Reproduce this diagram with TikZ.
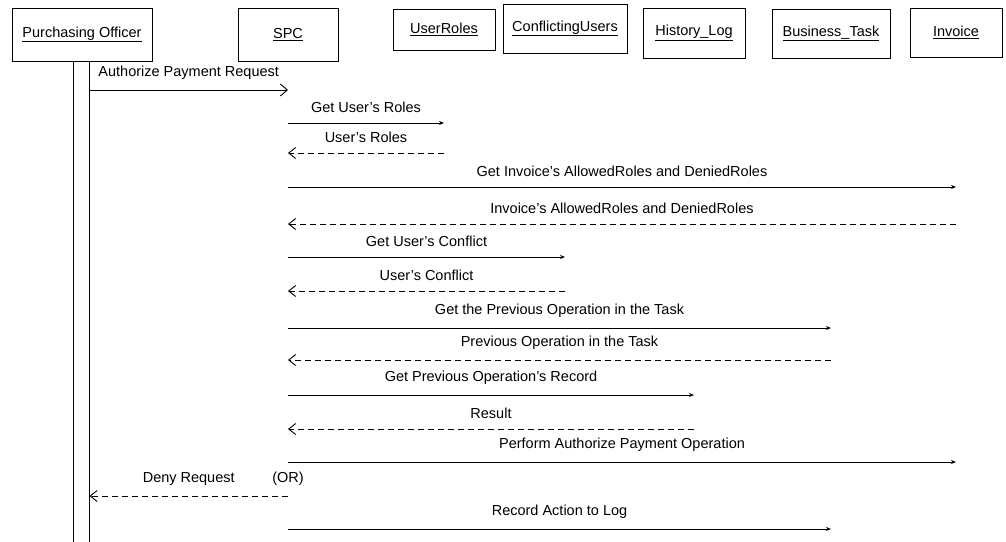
\documentclass[tikz,border=0pt]{standalone}
\usepackage{fontspec}
\setmainfont{Liberation Sans}
\usetikzlibrary{arrows.meta,calc}
\begin{document}
\begin{tikzpicture}[x=1pt,y=-1pt,
  every node/.style={font=\fontsize{14.5}{17}\selectfont},
  obj/.style={draw, line width=0.9pt, inner sep=0pt},
  call/.style={line width=0.9pt, -{Stealth[length=5pt,width=4pt]}},
  req/.style={line width=0.9pt, -{Straight Barb[length=7pt,width=12pt]}},
  reply/.style={line width=0.9pt, dash pattern=on 6pt off 4pt,
                -{Straight Barb[length=7pt,width=11pt]}},
  msg/.style={above=8pt, inner sep=2pt}]
\useasboundingbox (0,0) rectangle (1006,541);
\clip (0,0) rectangle (1006,541);

% object boxes
\node[obj, minimum width=140pt, minimum height=53pt] (po)   at (82,34.5)  {\underline{Purchasing Officer}};
\node[obj, minimum width=100pt, minimum height=53pt] (spc)  at (288,34.5) {\underline{SPC}};
\node[obj, minimum width=102pt, minimum height=41pt] (roles) at (444,29.5) {\underline{UserRoles}};
\node[obj, minimum width=124pt, minimum height=49pt] (conf) at (565,28.5) {\underline{ConflictingUsers}};
\node[obj, minimum width=102pt, minimum height=50pt] (hist) at (694,33)   {\underline{History\_Log}};
\node[obj, minimum width=118pt, minimum height=49pt] (task) at (831,33.5) {\underline{Business\_Task}};
\node[obj, minimum width=92pt,  minimum height=49pt] (inv)  at (956,32.5) {\underline{Invoice}};

% activation bar of the purchasing officer
\node[obj, minimum width=16pt, minimum height=520pt, anchor=north] (pobar) at (81,61) {};

% message levels
\coordinate (m1)  at (0,90);
\coordinate (m2)  at (0,123);
\coordinate (m3)  at (0,153);
\coordinate (m4)  at (0,187);
\coordinate (m5)  at (0,224);
\coordinate (m6)  at (0,257);
\coordinate (m7)  at (0,291);
\coordinate (m8)  at (0,328);
\coordinate (m9)  at (0,360);
\coordinate (m10) at (0,395);
\coordinate (m11) at (0,429);
\coordinate (m12) at (0,462);
\coordinate (m13) at (0,496);
\coordinate (m14) at (0,529);

% messages
\draw[req]   (pobar.east |- m1) -- node[msg]{Authorize Payment Request} (spc |- m1);
\draw[call]  (spc |- m2)  -- node[msg]{Get User's Roles} (roles |- m2);
\draw[reply] (roles |- m3) -- node[msg]{User's Roles} (spc |- m3);
\draw[call]  (spc |- m4)  -- node[msg]{Get Invoice's AllowedRoles and DeniedRoles} (inv |- m4);
\draw[reply] (inv |- m5)  -- node[msg]{Invoice's AllowedRoles and DeniedRoles} (spc |- m5);
\draw[call]  (spc |- m6)  -- node[msg]{Get User's Conflict} (conf |- m6);
\draw[reply] (conf |- m7) -- node[msg]{User's Conflict} (spc |- m7);
\draw[call]  (spc |- m8)  -- node[msg]{Get the Previous Operation in the Task} (task |- m8);
\draw[reply] (task |- m9) -- node[msg]{Previous Operation in the Task} (spc |- m9);
\draw[call]  (spc |- m10) -- node[msg]{Get Previous Operation's Record} (hist |- m10);
\draw[reply] (hist |- m11) -- node[msg]{Result} (spc |- m11);
\draw[call]  (spc |- m12) -- node[msg]{Perform Authorize Payment Operation} (inv |- m12);
\draw[reply] (spc |- m13) -- node[msg]{Deny Request} (pobar.east |- m13);
\node[msg] (or) at (spc |- m13) {(OR)};
\draw[call]  (spc |- m14) -- node[msg]{Record Action to Log} (task |- m14);
\end{tikzpicture}
\end{document}
